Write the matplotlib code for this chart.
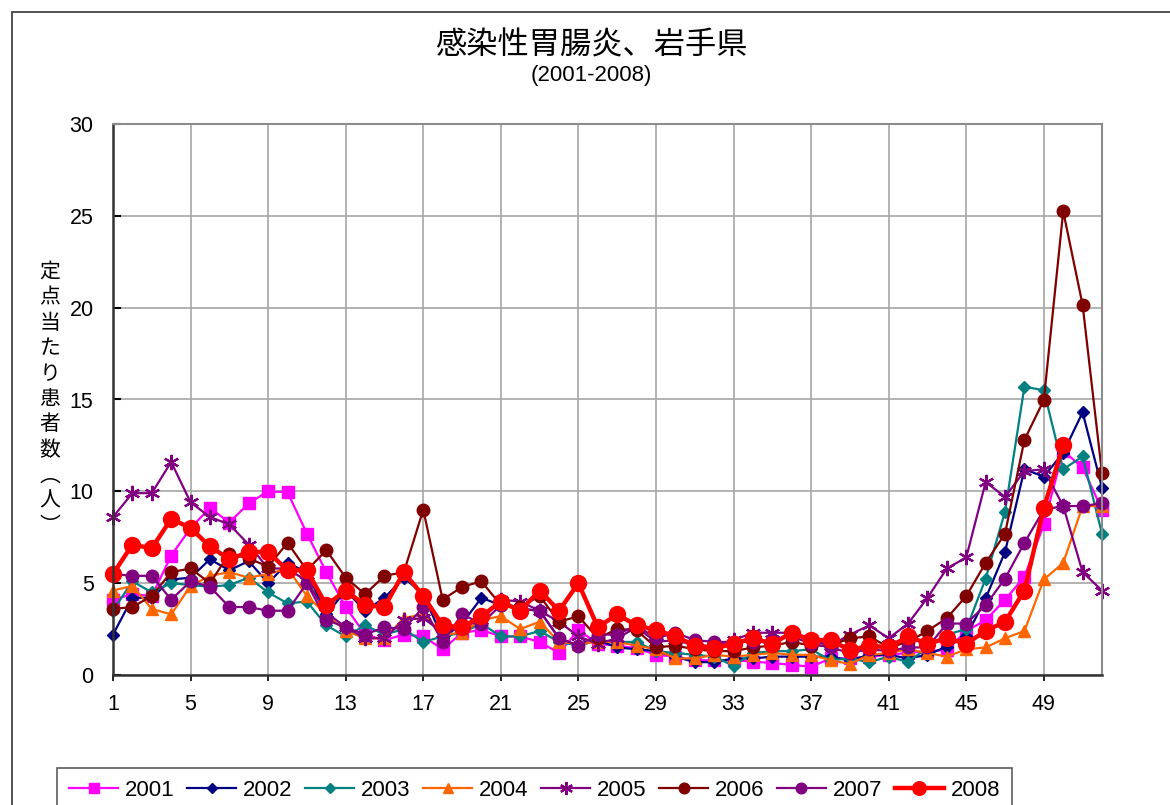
import matplotlib
matplotlib.use("Agg")
import matplotlib.pyplot as plt
from matplotlib.patches import Rectangle

plt.rcParams['font.family'] = ['Liberation Sans', 'Noto Sans CJK JP', 'DejaVu Sans']

weeks = list(range(1, 53))

y2001 = [4.1, 4.4, 4.3, 6.5, 8.0, 9.1, 8.3, 9.35, 10.0, 9.95, 7.7, 5.6, 3.7, 2.2, 1.9, 2.2, 2.1, 1.4, 2.3, 2.45,
         2.1, 2.1, 1.8, 1.2, 2.45, 1.7, 1.6, 1.45, 1.1, 1.0, 0.8, 0.8, 0.8, 0.73, 0.65, 0.55, 0.45, 0.9, 0.9, 1.0,
         1.1, 1.2, 1.3, 1.36, 2.4, 2.98, 4.1, 5.35, 8.2, 12.2, 11.3, 9.0]
y2002 = [2.2, 4.2, 4.2, 5.2, 5.3, 6.3, 5.7, 6.2, 5.0, 6.1, 5.6, 3.3, 4.6, 3.5, 4.2, 5.3, 4.4, 2.0, 2.8, 4.2,
         3.8, 3.6, 3.5, 2.0, 1.6, 1.9, 1.5, 1.4, 1.3, 1.0, 0.7, 0.7, 0.9, 0.9, 1.0, 1.0, 1.0, 1.0, 0.8, 1.1,
         1.1, 0.9, 1.1, 1.55, 2.1, 4.17, 6.7, 11.2, 10.8, 12.1, 14.3, 10.2]
y2003 = [3.5, 5.1, 4.5, 5.0, 4.9, 4.8, 4.9, 5.3, 4.5, 3.9, 4.0, 2.7, 2.1, 2.7, 2.2, 2.5, 1.8, 2.1, 2.3, 2.8,
         2.1, 2.1, 2.4, 1.8, 1.6, 1.9, 1.8, 1.8, 1.3, 1.2, 1.1, 1.0, 0.5, 1.2, 1.3, 1.3, 1.4, 0.8, 0.9, 0.7,
         1.0, 0.7, 1.5, 2.2, 2.5, 5.25, 8.9, 15.7, 15.5, 11.2, 11.9, 7.7]
y2004 = [4.6, 4.85, 3.6, 3.3, 4.85, 5.4, 5.6, 5.3, 5.5, 5.8, 4.3, 3.3, 2.4, 2.0, 2.0, 3.1, 3.3, 2.2, 2.3, 3.0,
         3.2, 2.5, 2.9, 1.8, 1.7, 1.8, 1.8, 1.6, 1.4, 0.9, 0.9, 1.1, 1.0, 1.1, 1.2, 1.1, 1.1, 0.8, 0.6, 1.1,
         1.2, 1.4, 1.2, 1.0, 1.4, 1.5, 2.0, 2.4, 5.2, 6.1, 9.2, 9.2]
y2005 = [8.6, 9.9, 9.9, 11.6, 9.4, 8.6, 8.2, 7.1, 5.8, 5.8, 5.1, 3.4, 2.6, 2.0, 2.0, 3.0, 3.1, 2.3, 2.6, 3.0,
         4.1, 4.0, 3.5, 2.9, 2.1, 1.7, 2.0, 2.6, 1.8, 1.9, 1.6, 1.6, 1.9, 2.3, 2.3, 2.3, 1.9, 1.6, 2.2, 2.7,
         2.0, 2.8, 4.2, 5.8, 6.4, 10.5, 9.7, 11.1, 11.2, 9.2, 5.6, 4.6]
y2006 = [3.6, 3.7, 4.3, 5.6, 5.8, 5.0, 6.6, 6.35, 5.9, 7.2, 5.7, 6.8, 5.3, 4.4, 5.4, 5.6, 9.0, 4.1, 4.8, 5.1,
         3.8, 3.7, 4.3, 2.9, 3.2, 2.0, 2.5, 2.45, 1.5, 1.6, 1.4, 1.3, 1.3, 1.5, 1.6, 1.8, 1.6, 1.6, 2.0, 2.1,
         1.5, 1.8, 2.4, 3.1, 4.3, 6.1, 7.7, 12.8, 14.97, 25.25, 20.15, 10.98]
y2007 = [5.5, 5.4, 5.4, 4.1, 5.1, 4.8, 3.7, 3.7, 3.5, 3.5, 5.0, 3.0, 2.6, 2.2, 2.6, 2.5, 3.7, 1.8, 3.3, 2.8,
         3.8, 3.6, 3.5, 2.0, 1.6, 2.2, 2.2, 2.7, 2.0, 2.3, 1.9, 1.8, 1.8, 1.8, 1.9, 2.1, 1.7, 1.5, 1.2, 1.4,
         1.3, 1.5, 1.5, 2.8, 2.8, 3.8, 5.25, 7.2, 9.0, 9.2, 9.2, 9.35]
y2008 = [5.5, 7.1, 6.9, 8.5, 8.0, 7.0, 6.3, 6.7, 6.7, 5.7, 5.7, 3.8, 4.6, 3.8, 3.7, 5.6, 4.3, 2.7, 2.6, 3.2,
         4.0, 3.5, 4.6, 3.5, 5.0, 2.6, 3.3, 2.7, 2.45, 2.1, 1.6, 1.45, 1.7, 2.0, 1.7, 2.3, 1.9, 1.9, 1.35, 1.6,
         1.5, 2.1, 1.7, 2.0, 1.7, 2.4, 2.9, 4.6, 9.1, 12.5]

labels = ['2001', '2002', '2003', '2004', '2005', '2006', '2007', '2008']
series = [y2001, y2002, y2003, y2004, y2005, y2006, y2007, y2008]
xticks = [1, 5, 9, 13, 17, 21, 25, 29, 33, 37, 41, 45, 49]
yticks = [0, 5, 10, 15, 20, 25, 30]

styles = [
    dict(color='#FF00FF', marker='s', ms=8.5, lw=1.6),
    dict(color='#000080', marker='D', ms=6.5, lw=1.6),
    dict(color='#008080', marker='D', ms=6.5, lw=1.6),
    dict(color='#FF6600', marker='^', ms=9, lw=1.6),
    dict(color='#800080', marker=(6, 2, 0), ms=11, lw=1.6, mew=1.6),
    dict(color='#800000', marker='o', ms=9, lw=1.6),
    dict(color='#800080', marker='o', ms=9, lw=1.6),
    dict(color='#FF0000', marker='o', ms=11.5, lw=3.2),
]

W, H = 1170, 805
fig = plt.figure(figsize=(W / 100, H / 100), dpi=100)
fig.patch.set_facecolor('white')

# outer chart border
fig.add_artist(Rectangle((12 / W, -0.1), 1.2, 1 - 12 / H + 0.1, transform=fig.transFigure,
                         fill=False, edgecolor='#333333', lw=1.2))

ax = fig.add_axes([113 / W, 1 - 675 / H, (1102 - 113) / W, (675 - 124) / H])

handles = []
for y, lab, st in zip(series, labels, styles):
    st = dict(st)
    mew = st.pop('mew', 1.0)
    h, = ax.plot(weeks[:len(y)], y, label=lab, mec=st['color'], mfc=st['color'], mew=mew,
                 clip_on=False, **st)
    handles.append(h)

ax.set_xlim(1, 52)
ax.set_ylim(0, 30)
ax.set_xticks(xticks)
ax.set_yticks(yticks)
ax.grid(True, color='#a6a6a6', lw=1.2)
ax.set_axisbelow(True)
for s in ['top', 'right']:
    ax.spines[s].set_color('#8c8c8c')
    ax.spines[s].set_linewidth(1.5)
for s in ['left', 'bottom']:
    ax.spines[s].set_color('#333333')
    ax.spines[s].set_linewidth(1.8)
ax.tick_params(axis='y', direction='in', length=6, width=1.5, labelsize=15.5, pad=14)
ax.tick_params(axis='x', direction='out', length=4, width=1.2, labelsize=15.5, pad=10)

cx = 591 / W
fig.text(cx, 1 - 45 / H, '感染性胃腸炎、岩手県', ha='center', va='center',
         fontsize=22.5, family=['Noto Sans CJK JP'])
fig.text(cx, 1 - 75 / H, '(2001-2008)', ha='center', va='center', fontsize=16)

ylab_chars = ['定', '点', '当', 'た', 'り', '患', '者', '数', '︵', '人', '︶']
fig.text(50 / W, 1 - 399 / H, '\n'.join(ylab_chars), ha='center', va='center', fontsize=15,
         family=['Noto Sans CJK JP'], linespacing=1.2)

leg = fig.legend(handles=handles, labels=labels, loc='upper left', bbox_to_anchor=(57 / W, 1 - 768 / H),
                 borderaxespad=0, ncol=8, frameon=True, fancybox=False, edgecolor='#333333', fontsize=16,
                 handlelength=2.2, handletextpad=0.3, columnspacing=0.58, borderpad=0.55,
                 markerscale=0.85)
leg.get_frame().set_linewidth(1.2)

fig.savefig('out.png', dpi=100)
